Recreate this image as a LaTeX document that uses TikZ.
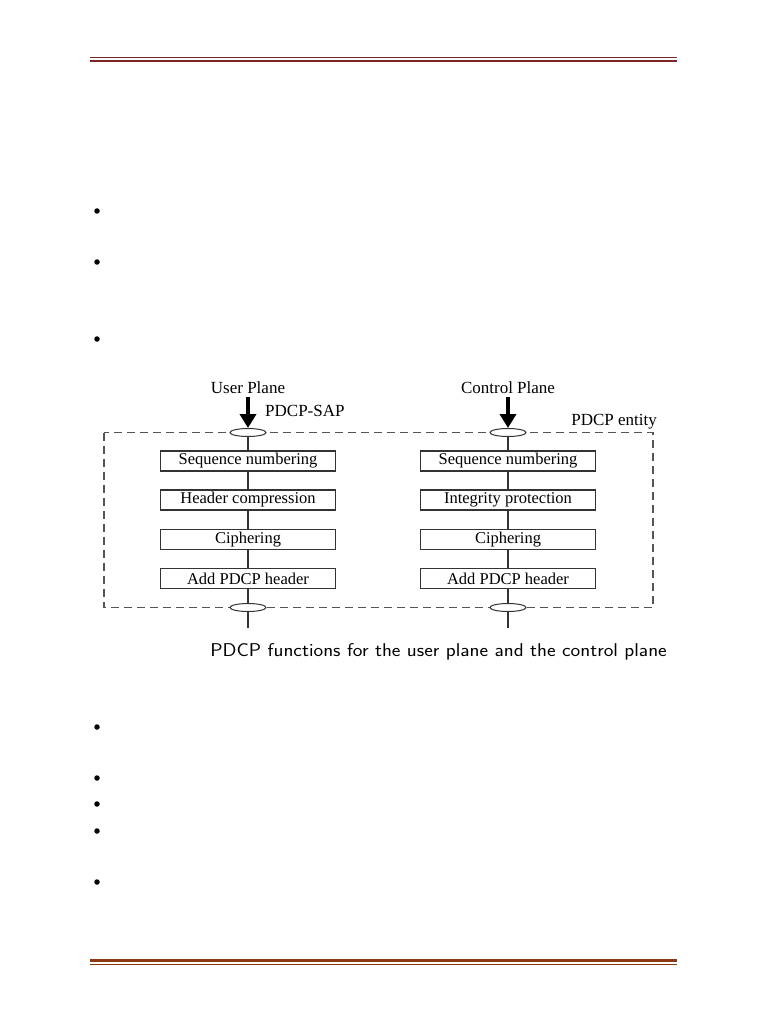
\documentclass[tikz,border=0pt]{standalone}
\usepackage{fontspec}
\setmainfont{Liberation Serif}
\usetikzlibrary{arrows.meta,shapes.geometric}
\definecolor{hdr}{HTML}{7A2626}
\definecolor{ftr}{HTML}{8A3A12}
\definecolor{ln}{HTML}{333333}
\definecolor{dsh}{HTML}{555555}
\tikzset{
  fbox/.style={draw=ln,line width=1.1pt,minimum width=175pt,minimum height=20pt,inner sep=0pt,font=\fontsize{16.5}{18}\selectfont},
  sap/.style={draw=ln,ellipse,line width=1pt,fill=white,minimum width=36pt,minimum height=8pt,inner sep=0pt},
  conn/.style={draw=ln,line width=1.1pt},
  bigarrow/.style={line width=4.5pt,-{Triangle[length=14pt,width=16pt]}},
  lbl/.style={font=\fontsize{17}{19}\selectfont,inner sep=0pt},
  bullet/.style={circle,fill=black,minimum size=5.5pt,inner sep=0pt}
}
\begin{document}
\begin{tikzpicture}[x=1pt,y=-1pt]
\useasboundingbox (0,0) rectangle (768,1024);
% header and footer rules
\fill[hdr] (90,57) rectangle (677,58.3);
\fill[hdr] (90,59.8) rectangle (677,62.3);
\fill[ftr] (90,959.3) rectangle (677,962.3);
\fill[ftr] (90,963.8) rectangle (677,965);
% bullets
\foreach \yy/\nm in {211/b1,262/b2,339/b3,727/b4,778/b5,804/b6,831/b7,882/b8}
  \node[bullet] (\nm) at (97,\yy) {};
% entity box
\draw[dsh,line width=1.2pt,dash pattern=on 8pt off 5pt] (104,432.5) rectangle (653,607.5);
% SAPs
\node[sap] (ut) at (248,432.5) {};
\node[sap] (ub) at (248,607.5) {};
\node[sap] (ct) at (508,432.5) {};
\node[sap] (cb) at (508,607.5) {};
% user plane boxes
\node[fbox] (u1) at (248,461) {Sequence numbering};
\node[fbox] (u2) at (248,500) {Header compression};
\node[fbox] (u3) at (248,539.5) {Ciphering};
\node[fbox] (u4) at (248,578.5) {Add PDCP header};
% control plane boxes
\node[fbox] (c1) at (508,461) {Sequence numbering};
\node[fbox] (c2) at (508,500) {Integrity protection};
\node[fbox] (c3) at (508,539.5) {Ciphering};
\node[fbox] (c4) at (508,578.5) {Add PDCP header};
\coordinate (ue) at (248,628);
\coordinate (ce) at (508,628);
\draw[conn] (ut.south) -- (u1.north) (u1.south) -- (u2.north) (u2.south) -- (u3.north) (u3.south) -- (u4.north) (u4.south) -- (ub.north) (ub.south) -- (ue);
\draw[conn] (ct.south) -- (c1.north) (c1.south) -- (c2.north) (c2.south) -- (c3.north) (c3.south) -- (c4.north) (c4.south) -- (cb.north) (cb.south) -- (ce);
% labels and arrows
\node[lbl] (up) at (248,388) {User Plane};
\node[lbl] (cp) at (508,388) {Control Plane};
\coordinate (ua) at (248,397);
\coordinate (ca) at (508,397);
\draw[bigarrow] (ua) -- (ut.north);
\draw[bigarrow] (ca) -- (ct.north);
\node[lbl,anchor=west] (psap) at (265,411) {PDCP-SAP};
\node[lbl,anchor=east] (pent) at (657,422) {PDCP entity};
\node[font=\sffamily\fontsize{18.5}{20}\selectfont,anchor=east,inner sep=0pt,xscale=1.11] (cap) at (667,652) {PDCP functions for the user plane and the control plane};
\end{tikzpicture}
\end{document}
